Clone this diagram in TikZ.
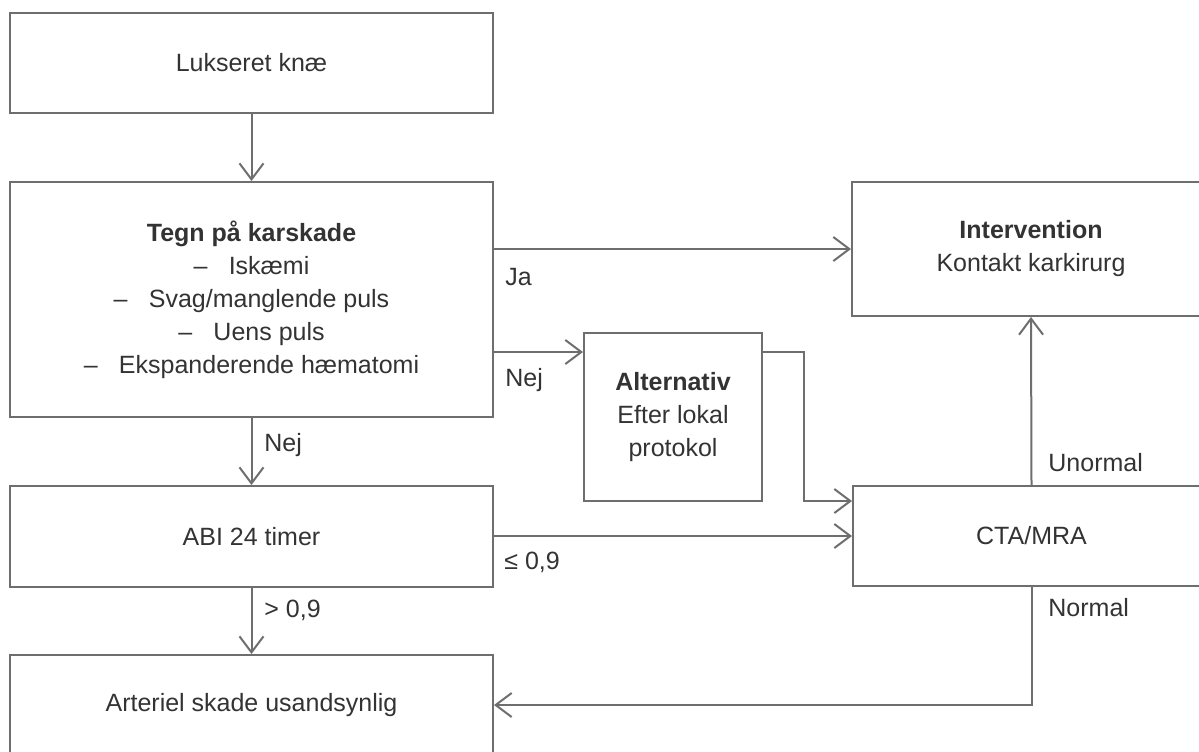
\documentclass[tikz,border=0pt]{standalone}
\usepackage{fontspec}
\setmainfont{Liberation Sans}
\usetikzlibrary{arrows.meta}
\definecolor{linegray}{HTML}{6E6E6E}
\definecolor{textgray}{HTML}{333333}
\begin{document}
\begin{tikzpicture}[x=0.5pt,y=-0.5pt,
  box/.style={draw=linegray, line width=1pt, text=textgray, align=center, inner sep=0pt,
    font=\fontsize{12.5}{16.5}\selectfont},
  arr/.style={draw=linegray, line width=1pt, -{Straight Barb[length=8pt,width=12pt]}},
  lbl/.style={text=textgray, anchor=west, inner sep=0pt, font=\fontsize{12.5}{15}\selectfont}]
\useasboundingbox (0,0) rectangle (1199,751);
\clip (0,0) rectangle (1199,751);
\fill[white] (0,0) rectangle (1199,751);
% boxes
\node[box, minimum width=241.5pt, minimum height=50pt] (b1) at (251.5,63) {Lukseret knæ};
\node[box, minimum width=241.5pt, minimum height=117.5pt] (b2) at (251.5,299.5)
  {\textbf{Tegn på karskade}\\
   –\hspace{0.85em}Iskæmi\\
   –\hspace{0.85em}Svag/manglende puls\\
   –\hspace{0.85em}Uens puls\\
   –\hspace{0.85em}Ekspanderende hæmatomi};
\node[box, minimum width=241.5pt, minimum height=50.5pt] (abi) at (251.5,536.5) {ABI 24 timer};
\node[box, minimum width=241.5pt, minimum height=50pt] (art) at (251.5,705) {Arteriel skade usandsynlig};
\node[box, minimum width=179pt, minimum height=67pt] (int) at (1031,249)
  {\textbf{Intervention}\\Kontakt karkirurg};
\node[box, minimum width=89pt, minimum height=84pt] (alt) at (673,417)
  {\textbf{Alternativ}\\Efter lokal\\protokol};
\node[box, minimum width=178.5pt, minimum height=50pt] (cta) at (1031.5,536) {CTA/MRA};
% helper coordinates
\coordinate (nejy) at (0,352);
\coordinate (altx) at (804,501);
\coordinate (normy) at (0,705);
% connectors
\draw[arr] (b1.south) -- (b2.north);
\draw[arr] (b2.east |- int.west) -- (int.west);
\draw[arr] (b2.east |- nejy) -- (alt.west |- nejy);
\draw[arr] (alt.east |- nejy) -| (altx) -- (cta.west |- altx);
\draw[arr] (b2.south) -- (abi.north);
\draw[arr] (abi.east |- cta.west) -- (cta.west);
\draw[arr] (abi.south) -- (art.north);
\draw[arr] (cta.north) -- (int.south);
\draw[arr] (cta.south) |- (art.east);
% labels
\node[lbl] (lja) at (505,277) {Ja};
\node[lbl] (lnej1) at (505,380) {Nej};
\node[lbl] (lnej2) at (264,445) {Nej};
\node[lbl] (lle) at (504,562) {≤ 0,9};
\node[lbl] (lgt) at (264,610) {> 0,9};
\node[lbl] (lunorm) at (1048,463) {Unormal};
\node[lbl] (lnorm) at (1048,608) {Normal};
\end{tikzpicture}
\end{document}
